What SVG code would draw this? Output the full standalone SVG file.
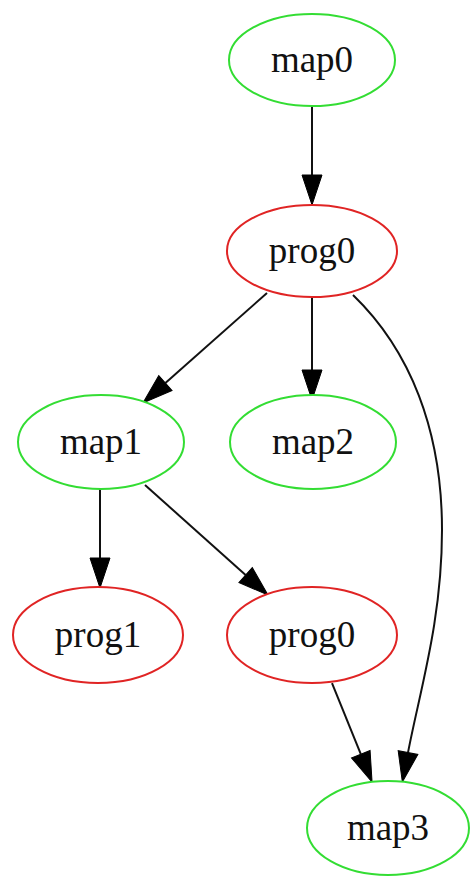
<svg xmlns="http://www.w3.org/2000/svg" width="470" height="878" viewBox="0 0 470 878">
  <defs>
    <marker id="arrow" markerUnits="userSpaceOnUse" markerWidth="30" markerHeight="20" refX="0" refY="10" orient="auto" overflow="visible">
      <path d="M0,0 L30,10 L0,20 z" fill="#000" stroke="#000" stroke-width="1"/>
    </marker>
    <style>
      .node ellipse { fill: #fff; stroke-width: 2; }
      .map ellipse { stroke: #33dd33; }
      .prog ellipse { stroke: #e02424; }
      .node text { font-family: "Liberation Serif", "Times New Roman", serif; font-size: 37px; text-anchor: middle; fill: #111; }
      .edges path { fill: none; stroke: #111; stroke-width: 2; marker-end: url(#arrow); }
    </style>
  </defs>
  <rect width="470" height="878" fill="#fff"/>

  <g class="edges" id="edges">
    <path d="M312,106 L312,175"/>
    <path d="M267,293 L165.4,383.1"/>
    <path d="M312,297 L312,370"/>
    <path d="M353,295 C410,350 442,430 442,530 C442,620 420,690 408,752.6"/>
    <path d="M100,489 L100,558"/>
    <path d="M145,485 L245.6,575"/>
    <path d="M332,683 L360.8,754.2"/>
  </g>

  <g id="map0" class="node map">
    <ellipse cx="312" cy="60" rx="83" ry="46"/>
    <text x="312" y="72">map0</text>
  </g>
  <g id="prog0" class="node prog">
    <ellipse cx="312" cy="251" rx="85" ry="46"/>
    <text x="312" y="263">prog0</text>
  </g>
  <g id="map1" class="node map">
    <ellipse cx="101" cy="442" rx="83" ry="47"/>
    <text x="101" y="454">map1</text>
  </g>
  <g id="map2" class="node map">
    <ellipse cx="313" cy="442" rx="83" ry="47"/>
    <text x="313" y="454">map2</text>
  </g>
  <g id="prog1" class="node prog">
    <ellipse cx="98" cy="635" rx="85" ry="48"/>
    <text x="98" y="647">prog1</text>
  </g>
  <g id="prog0_b" class="node prog">
    <ellipse cx="312" cy="635" rx="85" ry="48"/>
    <text x="312" y="647">prog0</text>
  </g>
  <g id="map3" class="node map">
    <ellipse cx="388" cy="828" rx="81" ry="47"/>
    <text x="388" y="840">map3</text>
  </g>
</svg>
